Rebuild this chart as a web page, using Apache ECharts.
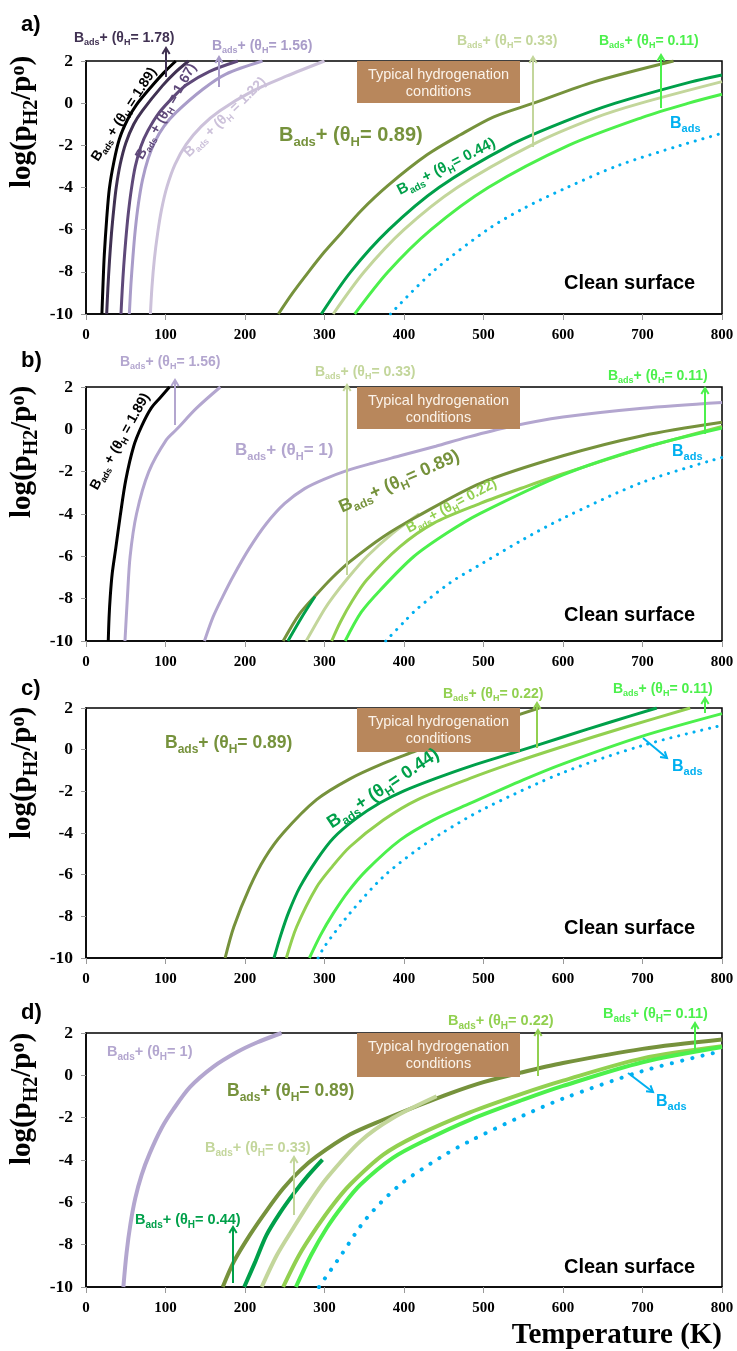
<!DOCTYPE html>
<html>
<head>
<meta charset="utf-8">
<script src="https://cdn.jsdelivr.net/npm/echarts@6/dist/echarts.min.js"></script>
<style>
  html, body { margin: 0; padding: 0; background: #fff; }
  #chart { width: 737px; height: 1351px; }
</style>
</head>
<body>
<div id="chart"></div>
<script>
// ---- data: [temperature K, log(pH2/p0)] ----
// panel a
const a189 = [[20,-10],[21.5,-8.5],[23,-7.2],[26,-5.5],[29.4,-4.05],[35,-2.8],[42,-1.7],[52,-0.8],[63,-0.1],[84,0.86],[98,1.45],[113,2]];
const a178 = [[26,-10],[27.5,-8.8],[29.5,-7.5],[32,-6.2],[35,-5.0],[38,-4.0],[43,-2.9],[50,-1.9],[60,-1.0],[71,-0.35],[96,0.82],[112,1.45],[129,2]];
const a167 = [[44,-10],[45.5,-8.9],[47.5,-7.7],[50,-6.5],[53,-5.3],[57,-4.1],[62,-3.0],[69,-2.05],[78,-1.3],[92,-0.45],[110,0.3],[126,0.86],[155,1.5],[191,2]];
const a156 = [[54.5,-10],[56.5,-8.6],[59,-7.3],[62,-6.0],[66,-4.75],[71,-3.65],[78,-2.65],[87,-1.8],[98,-1.1],[113,-0.45],[147,0.66],[176,1.38],[222,2]];
const a122 = [[81,-10],[83,-8.7],[86,-7.4],[90,-6.2],[95,-5.05],[102,-3.95],[112,-2.9],[126,-1.95],[145,-1.1],[168,-0.37],[210,0.58],[252,1.28],[300,2]];
const a089 = [[242,-10],[260,-9.0],[280,-8.0],[300,-7.05],[320,-6.2],[346,-5.1],[380,-3.9],[429,-2.45],[471,-1.5],[513,-0.65],[563,0.0],[638,1.0],[739,2]];
const a044 = [[296,-10],[333,-8],[381,-6],[444,-4],[533,-2],[600,-0.9],[666,0],[760,1],[800,1.34]];
const a033 = [[311,-10],[350,-8],[400,-6],[467,-4],[560,-2],[640,-0.7],[698,0],[800,1.02]];
const a011 = [[338,-10],[380,-8],[434,-6],[506,-4],[607,-2],[700,-0.67],[758,0],[800,0.42]];
const aBads = [[383,-10],[436,-8],[505,-6],[550,-5],[605,-4],[670,-2.95],[748,-2],[800,-1.43]];
// panel b
const b189 = [[28,-10],[29,-8.9],[30.5,-7.9],[33,-6.8],[37.5,-5.6],[43,-4.1],[50,-2.4],[60,-0.8],[70,0.15],[82,1.0],[93,1.48],[105,2]];
const b156 = [[49,-10],[52,-8],[55.5,-6],[63.5,-4],[79,-2],[101,-0.5],[114,0],[139,1],[169,2]];
const b100 = [[149,-10],[160,-8.85],[172,-7.9],[185,-6.95],[205,-5.65],[227,-4.45],[250,-3.5],[275,-2.8],[300,-2.35],[328,-1.95],[360,-1.6],[395,-1.25],[440,-0.8],[479,-0.38],[530,0.1],[600,0.58],[700,1.0],[800,1.27]];
const b089 = [[248,-10],[268,-8.75],[289,-7.84],[310,-7.0],[332,-6.25],[374,-5.07],[416,-4.13],[496,-2.55],[600,-1.25],[700,-0.3],[800,0.33]];
const b044 = [[254,-10],[271,-8.9],[288,-7.9]];
const b033 = [[277,-10],[300,-8.5],[311,-7.9],[330,-7.0],[353,-6.02],[386,-4.9],[419,-4.0]];
const b022 = [[309,-10],[320,-9.1],[335,-8.1],[353,-7.12],[395,-5.54],[437,-4.44],[496,-3.5],[550,-2.75],[600,-2.1],[700,-0.9],[800,0.14]];
const b011 = [[326,-10],[346,-8.65],[370,-7.6],[412,-6.02],[454,-4.9],[496,-3.97],[600,-2.15],[700,-0.88],[800,0.06]];
const bBads = [[377,-10],[400,-9.1],[416,-8.5],[458,-7.25],[500,-6.3],[550,-5.2],[600,-4.2],[700,-2.5],[800,-1.33]];
// panel c
const c089 = [[175,-10],[186,-8.5],[206,-6.6],[225,-5.2],[248,-4.0],[290,-2.4],[332,-1.4],[374,-0.66],[412,-0.1],[460,0.6],[510,1.25],[570,2]];
const c044 = [[236.5,-10],[245,-8.9],[255,-7.8],[269,-6.6],[290,-5.3],[311,-4.25],[340,-3.3],[370,-2.55],[400,-1.98],[440,-1.38],[483,-0.8],[540,-0.12],[600,0.61],[660,1.33],[718,2]];
const c022 = [[252,-10],[265,-8.5],[290,-6.6],[310,-5.6],[332,-4.66],[374,-3.38],[416,-2.42],[483,-1.38],[540,-0.6],[600,0.15],[680,1.1],[760,2]];
const c011 = [[281,-10],[295,-8.9],[311,-7.86],[330,-6.8],[353,-5.78],[395,-4.34],[437,-3.38],[483,-2.58],[550,-1.45],[600,-0.68],[700,0.65],[800,1.73]];
const cBads = [[292,-10],[300,-9.45],[332,-7.85],[374,-6.1],[416,-4.82],[450,-3.95],[500,-2.85],[600,-1.1],[700,0.2],[800,1.17]];
// panel d
const d100 = [[47,-10],[51,-8.4],[56,-7],[62,-5.8],[70,-4.7],[80,-3.7],[95,-2.5],[110,-1.6],[131,-0.55],[160,0.4],[190,1.1],[215,1.55],[246,2]];
const d089 = [[172,-10],[186,-8.8],[206,-7.55],[227,-6.4],[248,-5.35],[269,-4.5],[290,-3.83],[332,-2.8],[374,-2.1],[416,-1.46],[458,-0.85],[500,-0.32],[546,0.12],[600,0.58],[700,1.25],[800,1.69]];
const d044 = [[199,-10],[213,-8.8],[227,-7.55],[244,-6.5],[261,-5.6],[279,-4.75],[297.5,-3.98]];
const d033 = [[221,-10],[240,-8.5],[261,-7.2],[282,-5.95],[303,-4.85],[345,-3.12],[386,-2.02],[441,-0.99]];
const d022 = [[248,-10],[268,-8.5],[290,-7.2],[311,-6.1],[332,-5.17],[374,-3.75],[416,-2.85],[483,-1.75],[550,-0.85],[600,-0.25],[700,0.8],[800,1.37]];
const d011 = [[264,-10],[283,-8.5],[303,-7.2],[324,-6.1],[345,-5.17],[386,-3.9],[428,-3.05],[483,-2.1],[550,-1.15],[600,-0.5],[700,0.62],[800,1.34]];
const dBads = [[293,-10],[319,-8.6],[353,-6.75],[395,-5.17],[445,-3.9],[483,-3.1],[550,-1.9],[600,-1.1],[700,0.2],[800,1.15]];

const tempRange = [0, 800];
const logpRange = [-10, 2];

const col = {
  black: '#000000', p178: '#403152', p167: '#5f497a', p156: '#a99cc9', p122: '#ccc1da',
  lav: '#b3a6cf', olive: '#76923c', dgreen: '#00a04a', sage: '#c3d69b',
  mgreen: '#92d050', bgreen: '#4cf04c', cyan: '#00b0f0'
};
const SANS = '"Liberation Sans", Arial, sans-serif';
const SERIF = '"Liberation Serif", "Times New Roman", serif';

const panels = [
  { grid: { left: 86, top: 61, width: 636, height: 253 }, w: 3, lines: [
    [a089, 'olive'], [a044, 'dgreen'], [a033, 'sage'], [a011, 'bgreen'], [aBads, 'cyan', true],
    [a122, 'p122'], [a156, 'p156'], [a167, 'p167'], [a178, 'p178'], [a189, 'black']] },
  { grid: { left: 86, top: 387, width: 636, height: 254 }, w: 3, lines: [
    [b100, 'lav'], [b156, 'lav'], [b189, 'black'], [b033, 'sage'], [b089, 'olive'], [b044, 'dgreen'],
    [b022, 'mgreen'], [b011, 'bgreen'], [bBads, 'cyan', true]] },
  { grid: { left: 86, top: 708, width: 636, height: 250 }, w: 3, lines: [
    [c089, 'olive'], [c044, 'dgreen'], [c022, 'mgreen'], [c011, 'bgreen'], [cBads, 'cyan', true]] },
  { grid: { left: 86, top: 1033, width: 636, height: 254 }, w: 4, lines: [
    [d100, 'lav'], [d089, 'olive'], [d033, 'sage'], [d044, 'dgreen'], [d022, 'mgreen'], [d011, 'bgreen'], [dBads, 'cyan', true]] }
];

const series = [];
panels.forEach((p, i) => {
  p.lines.forEach(([data, c, dotted]) => {
    series.push({
      type: 'line', xAxisIndex: i, yAxisIndex: i, data, symbol: 'none', silent: true,
      smooth: 0.3,
      lineStyle: dotted
        ? { color: col[c], width: p.w, type: [0.1, p.w * 2.6], cap: 'round' }
        : { color: col[c], width: p.w }
    });
  });
});

// ---- annotations ----
function bads(x, y, color, size, theta, rot, spaced, align) {
  const sub = Math.round(size * 0.66);
  let t = '{m|B}{s|ads}';
  if (theta != null) {
    t += spaced ? `{m| + (θ}{s|H}{m| = ${theta})}` : `{m|+ (θ}{s|H}{m|= ${theta})}`;
  }
  return {
    type: 'text', x, y, rotation: (rot || 0) * Math.PI / 180, z: 10,
    style: {
      text: t, align: align || 'left', verticalAlign: 'middle',
      rich: {
        m: { fontSize: size, fontWeight: 'bold', fontFamily: SANS, fill: color, verticalAlign: 'top' },
        s: { fontSize: sub, fontWeight: 'bold', fontFamily: SANS, fill: color, verticalAlign: 'top',
             padding: [Math.round(size * 0.52), 0, 0, 0] }
      }
    }
  };
}
function arrow(x1, y1, x2, y2, color) {
  const a = Math.atan2(y2 - y1, x2 - x1), h = 7, s = 0.55;
  const p1 = [x2 - h * Math.cos(a - s), y2 - h * Math.sin(a - s)];
  const p2 = [x2 - h * Math.cos(a + s), y2 - h * Math.sin(a + s)];
  return [
    { type: 'line', z: 9, shape: { x1, y1, x2, y2 }, style: { stroke: color, lineWidth: 2 } },
    { type: 'polyline', z: 9, shape: { points: [p1, [x2, y2], p2] }, style: { stroke: color, lineWidth: 2, fill: null } }
  ];
}
function box(top, bottom) {
  return [
    { type: 'rect', z: 8, shape: { x: 357, y: top, width: 163, height: bottom - top }, style: { fill: '#b8875c' } },
    { type: 'text', z: 10, x: 438.5, y: top + 14, style: { text: 'Typical hydrogenation', align: 'center', verticalAlign: 'middle', fill: '#fbf3ea', font: '14.5px ' + SANS } },
    { type: 'text', z: 10, x: 438.5, y: top + 31, style: { text: 'conditions', align: 'center', verticalAlign: 'middle', fill: '#fbf3ea', font: '14.5px ' + SANS } }
  ];
}
function clean(y) {
  return { type: 'text', z: 10, x: 564, y, style: { text: 'Clean surface', align: 'left', verticalAlign: 'middle', fill: '#000', font: 'bold 20px ' + SANS } };
}
function tag(t, y) {
  return { type: 'text', z: 10, x: 21, y, style: { text: t, align: 'left', verticalAlign: 'middle', fill: '#000', font: 'bold 22px ' + SANS } };
}
function ytitle(y) {
  return {
    type: 'text', z: 10, x: 25, y, rotation: Math.PI / 2,
    style: {
      text: '{m|log(p}{s|H2}{m|/p}{u|o}{m|)}', align: 'center', verticalAlign: 'middle',
      rich: {
        m: { fontSize: 29, fontWeight: 'bold', fontFamily: SERIF, fill: '#000', verticalAlign: 'top' },
        s: { fontSize: 20, fontWeight: 'bold', fontFamily: SERIF, fill: '#000', verticalAlign: 'top', padding: [13, 0, 0, 0] },
        u: { fontSize: 20, fontWeight: 'bold', fontFamily: SERIF, fill: '#000', verticalAlign: 'top' }
      }
    }
  };
}

const graphics = [
  tag('a)', 25), tag('b)', 361), tag('c)', 689), tag('d)', 1013),
  ytitle(122), ytitle(452), ytitle(773), ytitle(1099),
  { type: 'text', z: 10, x: 722, y: 1336, style: { text: 'Temperature (K)', align: 'right', verticalAlign: 'middle', fill: '#000', font: 'bold 29px ' + SERIF } },
  // panel a
  bads(74, 39, col.p178, 14, '1.78'), ...arrow(166, 77, 166, 48, col.p178),
  bads(212, 47, col.p156, 14, '1.56'), ...arrow(219, 87, 219, 57, col.p156),
  bads(125, 115, col.black, 14, '1.89', 57, true, 'center'),
  bads(167, 112, col.p167, 14, '1.67', 60, true, 'center'),
  bads(226, 118, col.p122, 14, '1.22', 44, true, 'center'),
  bads(279, 137, col.olive, 20, '0.89'),
  ...box(61, 103),
  bads(457, 42, col.sage, 14, '0.33'), ...arrow(533, 147, 533, 57, col.sage),
  bads(599, 42, col.bgreen, 14, '0.11'), ...arrow(661, 108, 661, 55, col.bgreen),
  bads(670, 125, col.cyan, 16, null),
  bads(447, 168, col.dgreen, 15, '0.44', 27, false, 'center'),
  clean(283),
  // panel b
  bads(120, 363, col.lav, 14, '1.56'), ...arrow(175, 425, 175, 380, col.lav),
  bads(121, 442, col.black, 14, '1.89', 61, true, 'center'),
  bads(235, 452, col.lav, 17, '1'),
  bads(315, 373, col.sage, 14, '0.33'), ...arrow(347, 575, 347, 385, col.sage),
  ...box(387, 429),
  bads(400, 483, col.olive, 18, '0.89', 24, false, 'center'),
  bads(452, 507, col.mgreen, 14, '0.22', 28, false, 'center'),
  bads(608, 377, col.bgreen, 14, '0.11'), ...arrow(705, 434, 705, 388, col.bgreen),
  bads(672, 453, col.cyan, 16, null),
  clean(615),
  // panel c
  bads(165, 745, col.olive, 17.5, '0.89'),
  ...box(708, 752),
  bads(384, 790, col.dgreen, 18, '0.44', 33.5, false, 'center'),
  bads(443, 695, col.mgreen, 14, '0.22'), ...arrow(537, 748, 537, 703, col.mgreen),
  bads(613, 690, col.bgreen, 14, '0.11'), ...arrow(705, 713, 705, 698, col.bgreen),
  ...arrow(643, 738, 667, 758, col.cyan), bads(672, 768, col.cyan, 16, null),
  clean(928),
  // panel d
  bads(107, 1053, col.lav, 14.5, '1'),
  bads(227, 1093, col.olive, 17.5, '0.89'),
  bads(205, 1149, col.sage, 14.5, '0.33'), ...arrow(294, 1215, 294, 1157, col.sage),
  bads(135, 1221, col.dgreen, 14.5, '0.44'), ...arrow(233, 1283, 233, 1227, col.dgreen),
  ...box(1033, 1077),
  bads(448, 1022, col.mgreen, 14.5, '0.22'), ...arrow(538, 1076, 538, 1030, col.mgreen),
  bads(603, 1015, col.bgreen, 14.5, '0.11'), ...arrow(695, 1052, 695, 1023, col.bgreen),
  ...arrow(628, 1073, 653, 1092, col.cyan), bads(656, 1103, col.cyan, 16, null),
  clean(1267)
];

const chart = echarts.init(document.getElementById('chart'), null, { renderer: 'canvas' });
chart.setOption({
  animation: false,
  backgroundColor: '#fff',
  grid: panels.map(p => Object.assign({ show: true, borderColor: '#000', borderWidth: 1.5, outerBoundsMode: 'none', containLabel: false }, p.grid)),
  xAxis: panels.map((p, i) => ({
    type: 'value', gridIndex: i, min: tempRange[0], max: tempRange[1], interval: 100,
    axisLine: { show: true, onZero: false, lineStyle: { color: '#000', width: 1.5 } },
    axisTick: { show: true, length: 6, lineStyle: { color: '#999' } },
    axisLabel: { margin: 14, color: '#000', fontFamily: SERIF, fontWeight: 'bold', fontSize: 15 },
    splitLine: { show: false }
  })),
  yAxis: panels.map((p, i) => ({
    type: 'value', gridIndex: i, min: logpRange[0], max: logpRange[1], interval: 2,
    axisLine: { show: true, onZero: false, lineStyle: { color: '#000', width: 1.5 } },
    axisTick: { show: true, length: 5, lineStyle: { color: '#999' } },
    axisLabel: { margin: 13, color: '#000', fontFamily: SERIF, fontWeight: 'bold', fontSize: 17.5 },
    splitLine: { show: false }
  })),
  series,
  graphic: graphics
});
</script>
</body>
</html>
